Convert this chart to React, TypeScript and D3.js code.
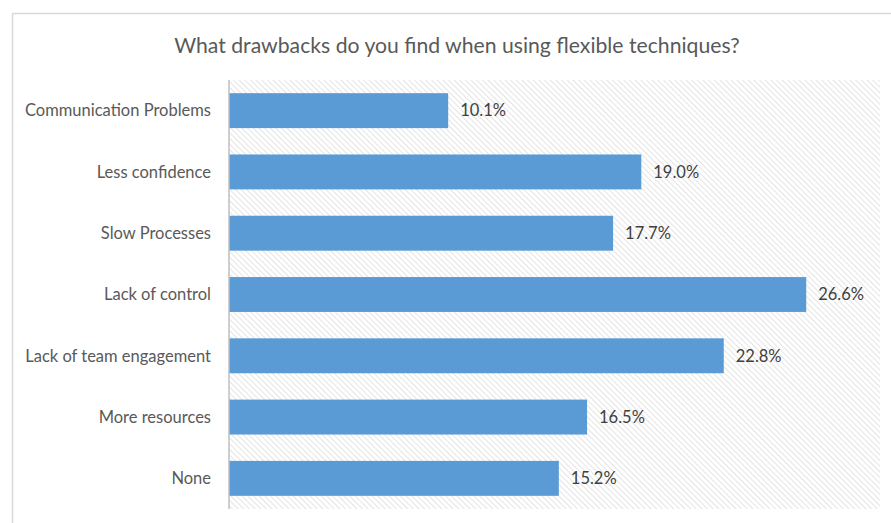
import React from "react";
import * as d3 from "d3";

const categories = [
  "Communication Problems",
  "Less confidence",
  "Slow Processes",
  "Lack of control",
  "Lack of team engagement",
  "More resources",
  "None",
];
const values = [10.1, 19.0, 17.7, 26.6, 22.8, 16.5, 15.2];
const title = "What drawbacks do you find when using flexible techniques?";

const W = 891;
const H = 523;
const plot = { left: 229, right: 880, top: 80, bottom: 509 };
const FONT = "Lato, 'Open Sans', sans-serif";

export default function App() {
  const x = d3.scaleLinear().domain([0, 30]).range([plot.left, plot.right]);
  const y = d3
    .scaleBand<string>()
    .domain(categories)
    .range([plot.top, plot.bottom])
    .paddingInner(0.43)
    .paddingOuter(0.215);

  return (
    <svg
      width={W}
      height={H}
      style={{ position: "absolute", left: 0, top: 0, background: "#fff" }}
    >
      <defs>
        <pattern
          id="hatch"
          width={4}
          height={4}
          patternUnits="userSpaceOnUse"
          patternTransform="rotate(-45)"
        >
          <rect width={4} height={4} fill="#fff" />
          <line x1={0} y1={0} x2={0} y2={4} stroke="#d9d9d9" strokeWidth={1.4} />
        </pattern>
      </defs>
      <rect x={12.5} y={13.5} width={W} height={H} fill="#fff" stroke="#d9d9d9" strokeWidth={1.5} />
      <text
        x={457}
        y={53}
        textAnchor="middle"
        fontFamily={FONT}
        fontSize={21.2}
        fill="#595959"
      >
        {title}
      </text>
      <rect
        x={plot.left}
        y={plot.top}
        width={plot.right - plot.left}
        height={plot.bottom - plot.top}
        fill="url(#hatch)"
      />
      {categories.map((c, i) => (
        <g key={c}>
          <rect
            x={x(0)}
            y={y(c)!}
            width={x(values[i]) - x(0)}
            height={y.bandwidth()}
            fill="#5b9bd5"
          />
          <text
            x={x(values[i]) + 12}
            y={y(c)! + y.bandwidth() / 2}
            dy="0.35em"
            fontFamily={FONT}
            fontSize={16.5}
            fill="#404040"
          >
            {values[i].toFixed(1) + "%"}
          </text>
          <text
            x={211}
            y={y(c)! + y.bandwidth() / 2}
            dy="0.35em"
            textAnchor="end"
            fontFamily={FONT}
            fontSize={16.5}
            fill="#595959"
          >
            {c}
          </text>
        </g>
      ))}
      <line
        x1={plot.left}
        x2={plot.left}
        y1={plot.top}
        y2={plot.bottom}
        stroke="#bfbfbf"
        strokeWidth={1.5}
      />
    </svg>
  );
}
